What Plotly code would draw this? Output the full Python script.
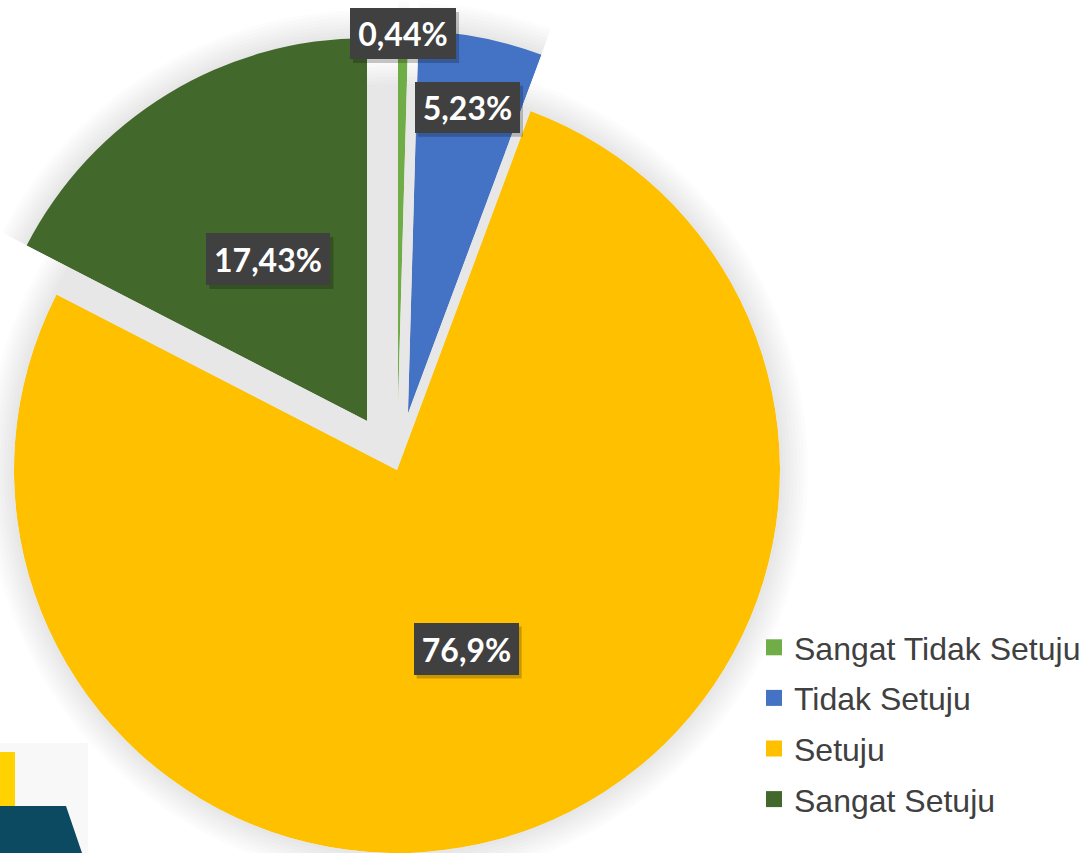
import math
import plotly.graph_objects as go

# ---------------- data ----------------
categories = ["Sangat Tidak Setuju", "Tidak Setuju", "Setuju", "Sangat Setuju"]
values = [0.44, 5.23, 76.9, 17.43]
value_labels = ["0,44%", "5,23%", "76,9%", "17,43%"]

# ---------------- styling ----------------
colors = ["#70AD47", "#4472C4", "#FFC000", "#43682B"]
pulls = [0.15, 0.15, 0.0, 0.15]
label_dist = [0.99, 0.815, 0.50, 0.495]     # label distance from slice vertex (fraction of radius)
label_box = [(106, 51), (105, 51), (105, 52), (124, 52)]

W, H = 1083, 853
CX, CY, R = 397, 470, 383      # pie centre / radius in px
GLOW = 28
glow_steps = [28, 24.5, 21, 17.5, 14, 10.5, 7, 3.5]
glow_alpha = 0.012


def sector_bbox(s0, s1):
    arc = s1 - s0
    a0 = s0 % 360
    a1 = a0 + arc
    ax0, ay0 = math.cos(math.radians(a0)), math.sin(math.radians(a0))
    ax1, ay1 = math.cos(math.radians(a1)), math.sin(math.radians(a1))
    if (a0 <= 90 and a1 >= 90) or (a0 > 90 and a1 >= 450):
        y1 = 1
    elif ay0 <= 0 and ay1 <= 0:
        y1 = 0
    else:
        y1 = max(ay0, ay1)
    if (a0 <= 180 and a1 >= 180) or (a0 > 180 and a1 >= 540):
        x0 = -1
    elif ax0 >= 0 and ax1 >= 0:
        x0 = 0
    else:
        x0 = min(ax0, ax1)
    if (a0 <= 270 and a1 >= 270) or (a0 > 270 and a1 >= 630):
        y0 = -1
    elif ay0 >= 0 and ay1 >= 0:
        y0 = 0
    else:
        y0 = min(ay0, ay1)
    if a1 >= 360:
        x1 = 1
    elif ax0 <= 0 and ax1 <= 0:
        x1 = 0
    else:
        x1 = max(ax0, ax1)
    return a0, a1, x0, y0, x1, y1


def clamp(v):
    return min(1.0, max(0.0, v))


total = sum(values)
starts, widths = [], []
acc = 0.0
for v in values:
    starts.append(acc / total * 360)
    widths.append(v / total * 360)
    acc += v
mids = [s + w / 2 for s, w in zip(starts, widths)]

fig = go.Figure()
layout_polars = {}
annotations = []
shapes = []

# soft glow around the un-pulled slice / gaps
for d in glow_steps:
    shapes.append(dict(type="circle", xref="paper", yref="paper",
                       x0=(CX - R - d) / W, x1=(CX + R + d) / W,
                       y0=(H - CY - R - d) / H, y1=(H - CY + R + d) / H,
                       fillcolor=f"rgba(0,0,0,{glow_alpha})", line=dict(width=0), layer="below"))

for i, cat in enumerate(categories):
    m = math.radians(mids[i])
    px = CX + pulls[i] * R * math.sin(m)
    py = CY - pulls[i] * R * math.cos(m)
    g = 0 if pulls[i] == 0 else GLOW
    R2 = R + g
    a0, a1, bx0, by0, bx1, by1 = sector_bbox(90 - (starts[i] + widths[i]), 90 - starts[i])
    pid = "polar" if i == 0 else f"polar{i + 1}"
    py_up = H - py
    layout_polars[pid] = dict(
        domain=dict(
            x=[clamp((px + R2 * bx0) / W), clamp((px + R2 * bx1) / W)],
            y=[clamp((py_up + R2 * by0) / H), clamp((py_up + R2 * by1) / H)],
        ),
        sector=[a0, a1],
        bgcolor="rgba(0,0,0,0)",
        barmode="overlay",
        angularaxis=dict(visible=False, rotation=90, direction="clockwise"),
        radialaxis=dict(visible=False, range=[0, 1 + g / R]),
    )
    if g > 0:
        for d in glow_steps:
            fig.add_trace(go.Barpolar(
                r=[1 + d / R], theta=[mids[i]], width=[widths[i]],
                marker=dict(color=f"rgba(0,0,0,{glow_alpha})", line=dict(width=0)),
                subplot=pid, showlegend=False, hoverinfo="skip"))
    fig.add_trace(go.Barpolar(
        r=[1], theta=[mids[i]], width=[widths[i]], name=cat,
        marker=dict(color=colors[i], line=dict(width=0)),
        subplot=pid, showlegend=False,
        hovertemplate=f"{cat}: {value_labels[i]}<extra></extra>"))

    # label box
    lx = px + label_dist[i] * R * math.sin(m)
    ly = py - label_dist[i] * R * math.cos(m)
    bw, bh = label_box[i]
    # soft drop shadow behind the label box
    shapes.append(dict(type="rect", xref="paper", yref="paper",
                       x0=(lx - bw / 2 + 3) / W, x1=(lx + bw / 2 + 3) / W,
                       y0=1 - (ly + bh / 2 + 4) / H, y1=1 - (ly - bh / 2 + 4) / H,
                       fillcolor="rgba(0,0,0,0.22)", line=dict(width=0), layer="above"))
    annotations.append(dict(x=lx / W, y=1 - ly / H, xref="paper", yref="paper",
                            xanchor="center", yanchor="middle", showarrow=False,
                            width=bw, height=bh, borderpad=0, borderwidth=0,
                            text=value_labels[i], bgcolor="#404040",
                            font=dict(family="Lato", size=32, color="white", weight="bold")))

# legend entries (square swatches)
for i, cat in enumerate(categories):
    fig.add_trace(go.Scatter(
        x=[None], y=[None], mode="markers", name=cat, legendgroup=cat,
        marker=dict(symbol="square", size=16, color=colors[i], line=dict(width=0)),
        hoverinfo="skip"))

# partial logo at bottom-left corner
shapes.append(dict(type="rect", xref="paper", yref="paper", x0=0, x1=88 / W, y0=0, y1=1 - 743 / H,
                   fillcolor="#f8f8f8", line=dict(width=0), layer="below"))
shapes.append(dict(type="rect", xref="paper", yref="paper", x0=0, x1=15 / W,
                   y0=1 - 832 / H, y1=1 - 752 / H,
                   fillcolor="#FFD200", line=dict(width=0), layer="above"))
shapes.append(dict(type="path", xref="paper", yref="paper",
                   path=f"M 0 {1 - 806 / H} L {66 / W} {1 - 806 / H} L {82 / W} 0 L 0 0 Z",
                   fillcolor="#0C4A62", line=dict(width=0), layer="above"))

fig.update_layout(
    width=W, height=H,
    margin=dict(l=0, r=0, t=0, b=0, autoexpand=False),
    paper_bgcolor="white",
    plot_bgcolor="rgba(0,0,0,0)",
    xaxis=dict(visible=False),
    yaxis=dict(visible=False),
    showlegend=True,
    legend=dict(x=754 / W, y=1 - 620 / H, xanchor="left", yanchor="top",
                font=dict(family="Liberation Sans, Arial", size=32, color="#404040"),
                tracegroupgap=6, bgcolor="rgba(0,0,0,0)"),
    annotations=annotations,
    shapes=shapes,
    **layout_polars,
)

fig.write_html("out.html", config={"displayModeBar": False},
               post_script="document.body.style.margin='0px';document.body.style.overflow='hidden';")
